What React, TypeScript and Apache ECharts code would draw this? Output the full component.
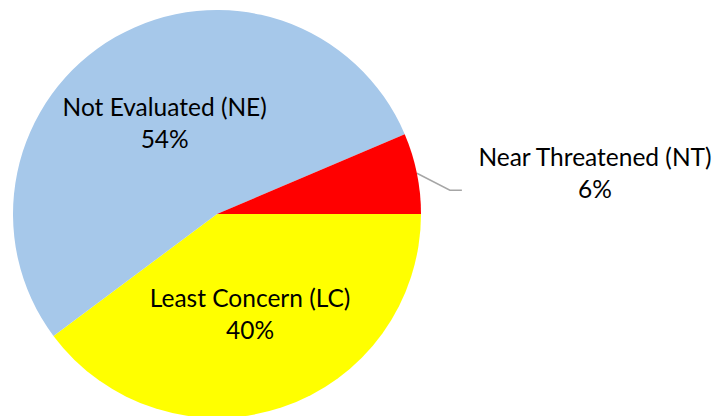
import React, { useEffect, useRef } from "react";
import * as echarts from "echarts";

const categories = ["Least Concern (LC)", "Not Evaluated (NE)", "Near Threatened (NT)"];
const values = [39.8, 53.8, 6.4];
const colors = ["#FFFF00", "#A6C8EA", "#FF0000"];

export default function App() {
  const ref = useRef<HTMLDivElement>(null);
  useEffect(() => {
    const chart = echarts.init(ref.current!, null, { renderer: "svg" });
    const data = categories.map((name, i) => {
      const item: any = { name, value: values[i], itemStyle: { color: colors[i] } };
      if (i === 2) {
        item.label = { position: "outside", align: "center" };
        item.labelLine = { show: true, length: 36, length2: 12, lineStyle: { color: "#A6A6A6", width: 1.5 } };
      }
      return item;
    });
    chart.setOption({
      animation: false,
      backgroundColor: "#fff",
      series: [
        {
          type: "pie",
          center: [217, 214],
          radius: 204,
          startAngle: 0,
          clockwise: true,
          avoidLabelOverlap: false,
          itemStyle: { borderWidth: 0 },
          label: {
            show: true,
            position: "inside",
            formatter: (p: any) => `${p.name}\n${Math.round(p.value)}%`,
            color: "#000",
            fontFamily: "Lato",
            fontSize: 24.5,
            lineHeight: 32,
            align: "center",
          },
          labelLine: { show: false },
          labelLayout: (p: any) => {
            if (p.dataIndex !== 2 || !p.labelLinePoints) return {};
            const s = p.labelLinePoints[0];
            return {
              x: 595,
              y: 172,
              align: "center",
              verticalAlign: "middle",
              labelLinePoints: [s, [s[0] + 33, s[1] + 17], [s[0] + 45, s[1] + 17]],
            };
          },
          emphasis: { disabled: true },
          data,
        },
      ],
    });
    return () => chart.dispose();
  }, []);
  return <div ref={ref} style={{ position: "fixed", left: 0, top: 0, width: 716, height: 416 }} />;
}
